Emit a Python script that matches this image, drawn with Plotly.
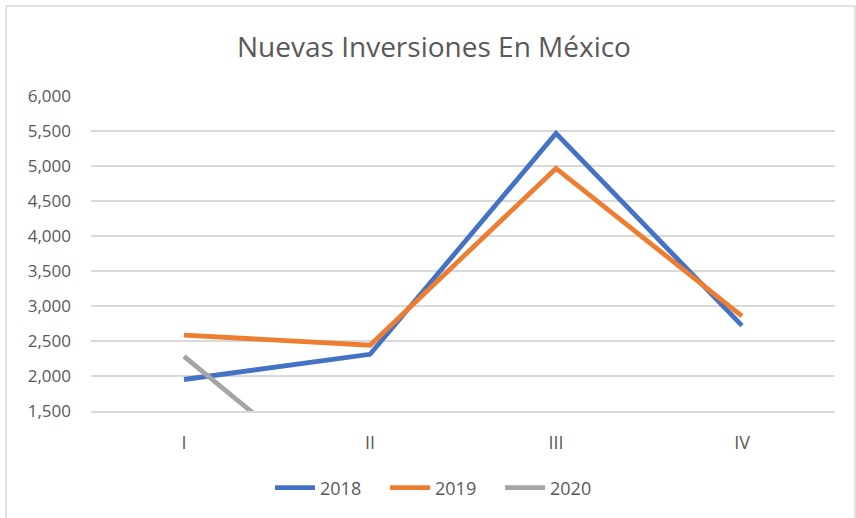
import plotly.graph_objects as go

categories = ["I", "II", "III", "IV"]
v2018 = [1950, 2310, 5465, 2720]
v2019 = [2585, 2440, 4965, 2855]
v2020 = [2280, 100]
cats2020 = ["I", "II"]

fig = go.Figure()
fig.add_trace(go.Scatter(x=categories, y=v2018, mode="lines", name="2018",
                         line=dict(color="#4472C4", width=4.8)))
fig.add_trace(go.Scatter(x=categories, y=v2019, mode="lines", name="2019",
                         line=dict(color="#ED7D31", width=4.8)))
fig.add_trace(go.Scatter(x=cats2020, y=v2020, mode="lines", name="2020",
                         line=dict(color="#A5A5A5", width=4.8)))

font_fam = "Open Sans, Liberation Sans, sans-serif"
fig.update_layout(
    width=856, height=518,
    margin=dict(l=91, r=21, t=96, b=107),
    paper_bgcolor="white", plot_bgcolor="white",
    title=dict(text="Nuevas Inversiones En México", x=(434 - 91) / 744, xref="paper", xanchor="center",
               y=1 - 47/518, yanchor="middle",
               font=dict(family=font_fam, size=28, color="#595959")),
    font=dict(family=font_fam, size=17, color="#595959"),
    showlegend=True,
    legend=dict(orientation="h", x=(270 - 91) / 744, xanchor="left", y=-0.244, yanchor="middle",
                font=dict(size=18, color="#595959"), tracegroupgap=0,
                entrywidth=60, entrywidthmode="pixels", itemwidth=40),
    xaxis=dict(type="category", categoryorder="array", categoryarray=categories,
               range=[-0.5, 3.5], showgrid=False, zeroline=False, showline=True,
               linecolor="#d9d9d9", linewidth=1.5, ticks="", ticklabelstandoff=15,
               tickfont=dict(size=18, color="#595959")),
    yaxis=dict(range=[1500, 6000], tickvals=[1500, 2000, 2500, 3000, 3500, 4000, 4500, 5000, 5500, 6000],
               tickformat=",", showgrid=True, gridcolor="#d9d9d9", gridwidth=1.5,
               zeroline=False, showline=False, ticks="", ticklabelstandoff=19,
               tickfont=dict(size=17, color="#595959")),
    shapes=[dict(type="rect", xref="paper", yref="paper",
                 x0=-0.1142, x1=1.0269, y0=-0.345, y1=1.2857,
                 line=dict(color="#d9d9d9", width=1.5), fillcolor="rgba(0,0,0,0)", layer="below")],
)

fig.write_html("out.html", config={"displayModeBar": False},
               post_script="document.body.style.margin='0';document.body.style.overflow='hidden';")
